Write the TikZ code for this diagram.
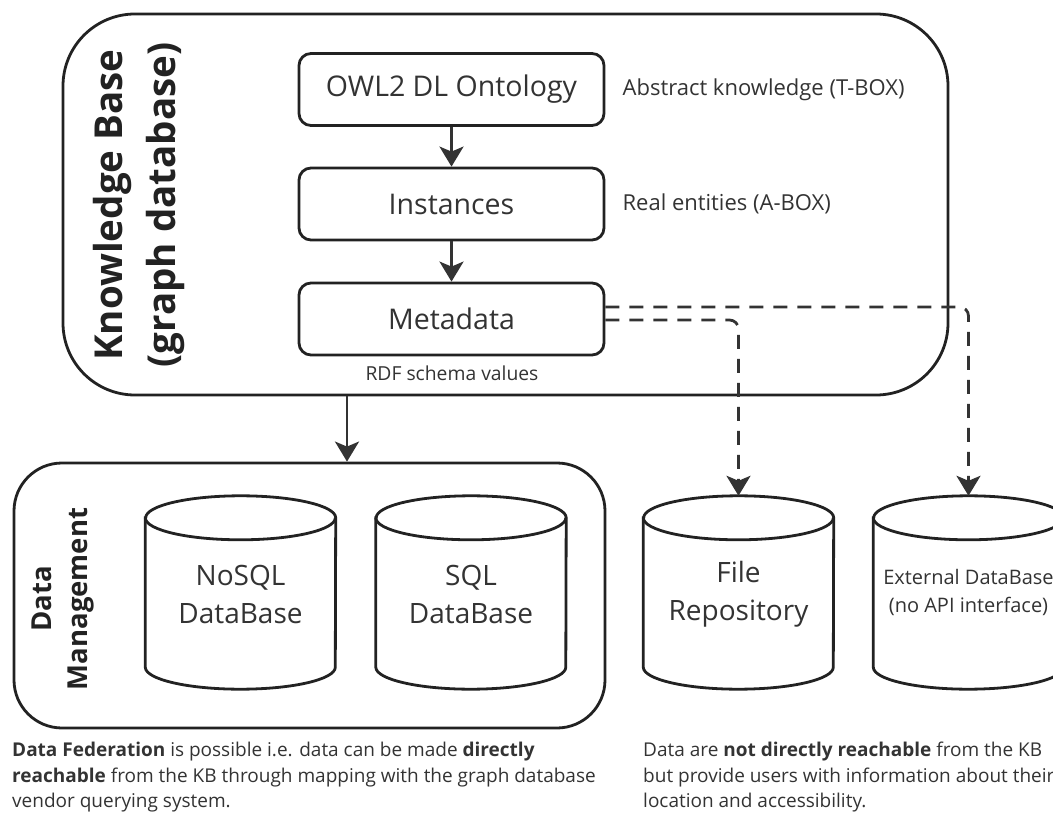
\documentclass[tikz,border=0pt]{standalone}
\usepackage{fontspec}
\setmainfont{Open Sans}
\usetikzlibrary{arrows.meta,calc}
\definecolor{ink}{HTML}{222222}
\definecolor{txt}{HTML}{333333}

% database drum drawn around a (borderless) node
\newcommand\drum[1]{%
  \draw[outline, fill=white]
    ([yshift=-22pt]#1.north west) -- ([yshift=22pt]#1.south west)
    arc[start angle=180, end angle=360, x radius=95pt, y radius=22pt]
    -- ([yshift=-22pt]#1.north east)
    arc[start angle=0, end angle=180, x radius=95pt, y radius=22pt] -- cycle;
  \draw[outline] ([yshift=-22pt]#1.north west)
    arc[start angle=180, end angle=360, x radius=95pt, y radius=22pt];
}

\begin{document}
\begin{tikzpicture}[x=1pt, y=-1pt,
  outline/.style={draw=ink, line width=2.8pt},
  container/.style={outline, inner sep=0pt},
  layer/.style={outline, rounded corners=12pt, minimum width=305pt,
    minimum height=72pt, inner sep=0pt, text=txt,
    font=\fontsize{28.5}{34}\selectfont},
  dbnode/.style={minimum width=190pt, minimum height=193pt, inner sep=0pt,
    align=center, text=txt, font=\fontsize{28}{38}\selectfont},
  flow/.style={draw=txt, line width=2.8pt,
    -{Stealth[length=20pt, width=24pt, inset=5pt]}},
  link/.style={flow, dash pattern=on 14pt off 10pt, rounded corners=9pt},
  note/.style={text=txt, inner sep=0pt, font=\fontsize{22}{28}\selectfont},
  caption/.style={text=txt, inner sep=0pt, align=left,
    font=\fontsize{19}{25.5}\selectfont},
  title/.style={text=ink, rotate=90, align=center, inner sep=0pt}
]
\useasboundingbox (0,0) rectangle (1053,821);

% containers
\node[container, rounded corners=72pt, minimum width=885pt, minimum height=381pt]
  (kb) at (505.5,204.5) {};
\node[container, rounded corners=48pt, minimum width=591pt, minimum height=265pt]
  (dm) at (309.5,595.5) {};

\node[title, font=\bfseries\fontsize{38.5}{53}\selectfont] (kbtitle) at (139,205)
  {Knowledge Base\\(graph database)};
\node[title, font=\bfseries\fontsize{27.5}{36}\selectfont] (dmtitle) at (63,599)
  {Data\\Management};

% knowledge base layers
\node[layer] (owl)  at (451.5,89.5)  {OWL2 DL Ontology};
\node[layer] (inst) at (451.5,204)   {Instances};
\node[layer] (meta) at (451.5,319)   {Metadata};

\node[note, anchor=west] (tbox) at ([xshift=17pt]owl.east)  {Abstract knowledge (T-BOX)};
\node[note, anchor=west] (abox) at ([xshift=17pt]inst.east) {Real entities (A-BOX)};
\node[note, font=\fontsize{19.3}{24}\selectfont] (rdf) at (452,373) {RDF schema values};

\draw[flow] (owl) -- (inst);
\draw[flow] (inst) -- (meta);

% data stores
\node[dbnode] (nosql) at (240.5,592.5) {};
\node[dbnode] (sql)   at (471,592.5)   {};
\node[dbnode] (file)  at (738.5,592.5) {};
\node[dbnode] (ext)   at (968.5,592.5) {};
\drum{nosql}\drum{sql}\drum{file}\drum{ext}
\node[dbnode] at ([yshift=-2pt]nosql) {NoSQL\\DataBase};
\node[dbnode] at ([yshift=-2pt]sql)   {SQL\\DataBase};
\node[dbnode] at ([yshift=-2pt]file)  {File\\Repository};
\node[dbnode, font=\fontsize{20}{28}\selectfont] at (ext) {External DataBase\\(no API interface)};

% connectors
\draw[flow] (347,0 |- kb.south) -- (347,0 |- dm.north);
\draw[link] ([yshift=12pt]meta.east) -| (ext.north);
\draw[link] ([yshift=-1pt]meta.east) -| (file.north);

% captions
\node[caption, anchor=north west] (fed) at (12,742)
  {\textbf{Data Federation} is possible i.e. data can be made \textbf{directly}\\
   \textbf{reachable} from the KB through mapping with the graph database\\
   vendor querying system.};
\node[caption, anchor=north west] (nodirect) at (643,742)
  {Data are \textbf{not directly reachable} from the KB\\
   but provide users with information about their\\
   location and accessibility.};
\end{tikzpicture}
\end{document}
